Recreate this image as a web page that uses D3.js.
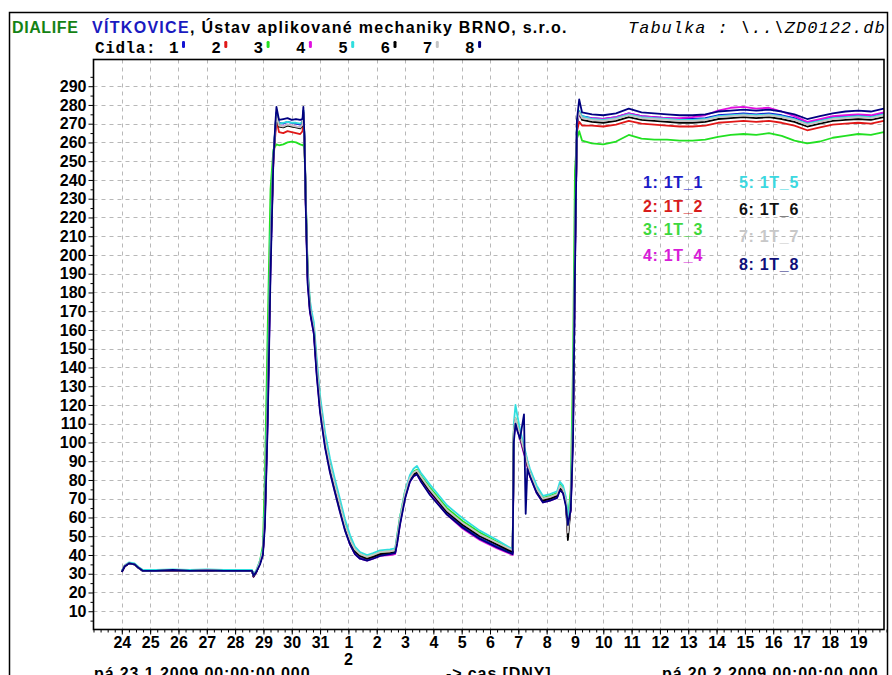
<!DOCTYPE html>
<html>
<head>
<meta charset="utf-8">
<script src="https://cdn.jsdelivr.net/npm/d3@7"></script>
<style>
    body { margin: 0; background: #fff; }
    svg { display: block; font-family: "Liberation Sans", Arial, sans-serif; }
</style>
</head>
<body>
<svg id="chart" width="892" height="675"></svg>
<script>
    'use strict';

    // time axis: days after 23.1.2009 00:00
    const startDate = new Date(2009, 0, 23);
    const endDate = new Date(2009, 1, 20);

    const days = [
        1.00, 1.10, 1.25, 1.45, 1.60, 1.75, 2.20, 2.80, 3.40, 4.00, 4.60, 5.20, 5.60, 5.65, 5.75, 5.88, 5.98,
        6.05, 6.15, 6.25, 6.35, 6.42, 6.46, 6.55, 6.70, 6.85, 7.00, 7.15, 7.30, 7.38, 7.41, 7.45,
        7.50, 7.56, 7.64, 7.70, 7.78, 7.88, 8.00, 8.18, 8.35, 8.53, 8.70, 8.88, 9.06, 9.23, 9.41, 9.66,
        9.87, 10.12, 10.47, 10.65, 10.72, 10.82, 11.00, 11.17, 11.30, 11.42, 11.55, 11.88, 12.48, 13.04, 13.64, 14.25,
        14.80, 14.84, 14.90, 14.97, 15.06, 15.20, 15.26, 15.32, 15.41, 15.65, 15.87, 16.12, 16.37, 16.47, 16.58, 16.68, 16.75, 16.85, 16.93,
        17.00, 17.07, 17.15, 17.25,
        17.60, 18.00, 18.45, 18.90, 19.35, 19.80, 20.25, 20.70, 21.15, 21.60, 22.05, 22.50, 22.95,
        23.40, 23.85, 24.30, 24.75, 25.20, 25.65, 26.10, 26.55, 27.00, 27.45, 27.90, 28.00
    ];

    const t1 = [
        31, 34, 35.5, 35, 33, 31.5, 31.5, 31.8, 31.5, 31.8, 31.5, 31.5, 31.5, 28.5, 31, 36, 41,
        58, 115, 195, 251, 268, 276, 270.5, 270, 271, 270.5, 270, 269.5, 271, 277, 262,
        224, 188, 171, 165.5, 159, 138, 118, 98.5, 85.5, 74.5, 64.5, 54, 46, 41, 38.5, 37.5,
        38.5, 40, 40.5, 41, 47, 57, 71, 79.5, 82.5, 83.5, 80, 73, 62, 55, 49, 44.5,
        41, 103, 111, 107, 102.5, 94.5, 91.5, 87.5, 82.5, 73.5, 68.5, 69.5, 71, 75.5, 73.5, 67.5, 52, 65, 105,
        195, 270, 276, 274,
        273, 272.5, 273.5, 275.5, 274, 273.5, 273, 272.5, 272.5, 273, 274.5, 275, 275.5,
        275, 275.5, 274.5, 273, 270.5, 272, 273.5, 274, 274.5, 274, 275.5, 275
    ];
    const t2 = [
        31, 34, 35.5, 35, 33, 31.5, 31.5, 31.8, 31.5, 31.8, 31.5, 31.5, 31.5, 28.5, 31, 36, 41,
        62, 125, 205, 250, 264, 272, 265.5, 265, 266, 265.5, 265, 264.5, 266, 272, 260,
        226, 191, 173, 166.5, 160.5, 141, 121, 101, 88, 77, 67, 56, 48, 42.5, 40, 38.5,
        39.5, 41, 41.5, 42, 48.5, 58.5, 72.5, 80.5, 83.5, 84.5, 81.5, 75, 64, 57, 51, 46.5,
        42, 104, 112, 108.5, 103.5, 95.5, 92.5, 88.5, 83.5, 74.5, 69.5, 70.5, 72, 76.5, 74.5, 68.5, 51, 67, 112,
        205, 266, 271, 269,
        269, 268.5, 269.5, 271.5, 270, 269.5, 269, 268.5, 268.5, 269, 270.5, 271, 271.5,
        271, 271.5, 270.5, 269, 266.5, 268, 269.5, 270, 270.5, 270, 271.5, 271
    ];
    const t3 = [
        31.5, 34, 35.5, 35, 33, 31.5, 31.5, 32, 31.5, 32, 31.5, 31.5, 31.5, 29, 31.5, 37, 45,
        80, 160, 235, 256, 258, 259, 258.5, 259, 260, 260.5, 260, 259, 258.5, 259, 256,
        228, 192, 174, 167, 161.5, 142, 122, 102, 89, 78, 68, 57, 48.5, 43, 40.5, 39,
        40, 41.5, 42, 42.5, 50, 60, 74, 81.5, 84.5, 85.5, 82.5, 76, 65, 58, 52, 47,
        42.5, 106, 113, 109.5, 104.5, 96.5, 93.5, 89.5, 84.5, 75.5, 70.5, 71.5, 73, 77.5, 75.5, 69.5, 58, 75, 140,
        245, 262, 266, 261,
        259.5, 259, 260.5, 264, 262, 261.5, 261.5, 261, 261, 261.5, 263, 264, 264.5,
        264, 265, 263.5, 261, 259.5, 260.5, 262.5, 263.5, 264.5, 264, 265.5, 264
    ];
    const t4 = [
        31, 34, 35.5, 35, 33, 31.5, 31.5, 31.8, 31.5, 31.8, 31.5, 31.5, 31.5, 28.5, 31, 35.5, 40.5,
        57, 112, 195, 250, 267, 273, 269, 268.5, 269.5, 269, 268.5, 268, 269.5, 275, 261,
        223, 187, 170, 164.5, 158, 137, 117, 97.5, 84.5, 73.5, 63.5, 53.5, 45.5, 40.5, 38, 37,
        38, 39.5, 40, 40.5, 46.5, 56.5, 70.5, 79, 82, 83, 79.5, 72.5, 61.5, 54, 48, 43.5,
        40, 102, 110.5, 106.5, 102, 94, 91, 87, 82, 73, 68, 69, 70.5, 75, 73, 67, 55, 64, 104,
        193, 270, 275, 273,
        273, 272.5, 273.5, 275.5, 274, 273.5, 273, 273, 273.5, 274.5, 277, 278.5, 279,
        278, 278.5, 276.5, 274, 271, 272.5, 274, 274.5, 275, 274.5, 276, 275.5
    ];
    const t5 = [
        31.5, 34.5, 36, 35.5, 33.5, 32, 32, 32.3, 32, 32.3, 32, 32, 32, 29.5, 32, 37, 43,
        65, 130, 210, 253, 268, 275, 270, 270.5, 271, 270.5, 270.5, 270, 271, 277, 263,
        228, 194, 176, 170, 164, 145, 125, 105, 91.5, 80, 70, 59, 50.5, 44.5, 41.5, 40,
        41, 42.5, 43, 43.5, 50, 60, 74, 82.5, 86, 87.5, 84, 77.5, 66.5, 59.5, 53, 48,
        43, 110, 120, 114, 107, 98, 94.5, 90.5, 86, 77, 71.5, 72.5, 74, 79, 77, 71, 60, 70, 118,
        205, 271, 277, 274,
        272.5, 272, 273, 275, 273.5, 273, 272.5, 272, 272, 272.5, 274, 274.5, 275,
        274.5, 275, 274, 272.5, 270, 271.5, 273, 273.5, 274, 273.5, 275, 274.5
    ];
    const t6 = [
        31, 34, 35.5, 35, 33, 31.5, 31.5, 31.8, 31.5, 31.8, 31.5, 31.5, 31.5, 28.5, 31, 36, 41,
        60, 120, 200, 252, 267, 274, 268.5, 268, 269, 268.5, 268, 267.5, 269, 276, 262,
        225, 190, 172, 166, 160, 140, 120, 100, 87, 76, 66, 55, 47, 42, 39.5, 38,
        39, 40.5, 41, 41.5, 48, 58, 72, 80, 83, 84, 81, 74, 63, 56, 50, 45.5,
        41.5, 105, 112, 108, 103, 95, 92, 88, 83, 74, 69, 70, 71.5, 76, 74, 68, 48, 66, 110,
        200, 270, 276, 272,
        271, 270.5, 271.5, 273.5, 272, 271.5, 271, 270.5, 270.5, 271, 272.5, 273, 273.5,
        273, 273.5, 272.5, 271, 268.5, 270, 271.5, 272, 272.5, 272, 273.5, 273
    ];
    const t7 = [
        31.5, 34.5, 35.5, 35, 33, 31.5, 31.5, 32, 31.5, 32, 31.5, 31.5, 31.5, 29, 31.5, 36.5, 42,
        61, 122, 202, 252, 268, 274, 269, 268.5, 269.5, 269, 268.5, 268, 269.5, 276, 262,
        226, 191, 173, 167, 161, 141, 121, 101, 88, 77, 67, 56, 48, 43, 40.5, 39,
        40, 41.5, 42, 42.5, 49, 59, 73, 81, 84, 85, 82, 75, 64, 57, 51, 46.5,
        42.5, 106, 113, 109, 104, 96, 93, 89, 84, 75, 70, 71, 72.5, 77, 75, 69, 52, 67, 112,
        202, 271, 276, 273,
        272, 271.5, 272.5, 274.5, 273, 272.5, 272, 271.5, 271.5, 272, 273.5, 274, 274.5,
        274, 274.5, 273.5, 272, 269.5, 271, 272.5, 273, 273.5, 273, 274.5, 274
    ];
    const t8 = [
        31, 34, 35.5, 35, 33, 31.5, 31.5, 32, 31.5, 31.8, 31.5, 31.5, 31.5, 29, 31, 35, 40,
        55, 110, 190, 250, 270, 279, 272, 272.5, 273, 272, 272.5, 272, 272.5, 279, 262,
        222, 185, 170, 165, 158, 136, 116, 97, 84, 73, 63, 53, 45.5, 40.5, 38, 37,
        38, 39.5, 40.5, 41, 46, 56, 70, 79, 82, 83, 79.5, 72, 61.5, 54.5, 48.5, 44,
        40.5, 100, 110, 106, 102, 115, 62, 86, 82, 73, 68, 69, 70.5, 74.5, 73, 66, 56, 64, 100,
        190, 272, 283, 276,
        275, 274.5, 275.5, 278, 276, 275.5, 275, 274.5, 274.5, 275, 276.5, 277, 277.5,
        277, 277.5, 276.5, 275, 272.5, 274, 275.5, 276.5, 277, 276.5, 278, 277.5
    ];

    const seriesValues = [t1, t2, t3, t4, t5, t6, t7, t8];
    const seriesNames = ['1T_1', '1T_2', '1T_3', '1T_4', '1T_5', '1T_6', '1T_7', '1T_8'];
    const seriesColors = ['#1414d2', '#e01818', '#22e022', '#e010e0', '#30dede', '#000000', '#c4c4c4', '#000080'];
    const legendColors = ['#1c1cc8', '#d81c1c', '#3ed83e', '#d81cd8', '#3cd8e0', '#111111', '#c8c8c8', '#10107a'];

    const yTickValues = [10, 20, 30, 40, 50, 60, 70, 80, 90, 100, 110, 120, 130, 140, 150,
        160, 170, 180, 190, 200, 210, 220, 230, 240, 250, 260, 270, 280, 290];
    const xTickLabels = ['24', '25', '26', '27', '28', '29', '30', '31', '1', '2', '3', '4', '5',
        '6', '7', '8', '9', '10', '11', '12', '13', '14', '15', '16', '17', '18', '19'];

    const plot = { left: 93.5, top: 59.5, right: 884, bottom: 629.5 };
    const svg = d3.select('#chart');

    const dayDate = (d) => new Date(startDate.getTime() + d * 864e5);

    const x = d3.scaleTime()
        .domain([startDate, endDate])
        .range([plot.left, 886.5]);
    const y = d3.scaleLinear()
        .domain([0, 304.5])
        .range([630, 59]);

    // outer frame
    svg.append('rect')
        .attr('x', 9.5).attr('y', 12.5)
        .attr('width', 878).attr('height', 700)
        .attr('fill', 'none').attr('stroke', '#000').attr('stroke-width', 1.5);

    // header
    const title = svg.append('text')
        .attr('x', 12).attr('y', 33)
        .attr('font-size', 16).attr('font-weight', 'bold');
    title.append('tspan').attr('fill', '#148214').attr('letter-spacing', 0.6).text('DIALIFE');
    const title2 = svg.append('text')
        .attr('x', 92).attr('y', 33)
        .attr('font-size', 16).attr('font-weight', 'bold').attr('letter-spacing', 1.3);
    title2.append('tspan').attr('fill', '#1a1ac0').text('VÍTKOVICE');
    title2.append('tspan').attr('fill', '#000').text(', Ústav aplikované mechaniky BRNO, s.r.o.');

    svg.append('text')
        .attr('x', 628).attr('y', 33)
        .attr('font-family', '"Liberation Mono", "Courier New", monospace')
        .attr('font-style', 'italic').attr('font-size', 17).attr('letter-spacing', 1)
        .text('Tabulka : \\..\\ZD0122.db');

    const cidla = svg.append('g')
        .attr('font-family', '"Liberation Mono", "Courier New", monospace')
        .attr('font-weight', 'bold').attr('font-size', 16);
    cidla.append('text').attr('x', 95).attr('y', 53).attr('letter-spacing', 0.6).text('Cidla:');
    seriesNames.forEach((name, i) => {
        const cx = 169 + i * 42.3;
        cidla.append('text').attr('x', cx).attr('y', 53).text(i + 1);
        cidla.append('rect')
            .attr('x', cx + 13).attr('y', 41)
            .attr('width', 3).attr('height', 7).attr('rx', 1.3)
            .attr('fill', seriesColors[i]);
    });

    // grid
    const grid = svg.append('g')
        .attr('stroke', '#b8b8b8').attr('stroke-dasharray', '4,4').attr('stroke-width', 1);
    grid.selectAll('.hgrid')
        .data(yTickValues)
        .enter().append('line')
        .attr('x1', plot.left).attr('x2', plot.right)
        .attr('y1', (d) => Math.round(y(d)) + 0.5).attr('y2', (d) => Math.round(y(d)) + 0.5);
    const dayTicks = xTickLabels.map((lbl, i) => dayDate(i + 1));
    grid.selectAll('.vgrid')
        .data(dayTicks)
        .enter().append('line')
        .attr('x1', (d) => Math.round(x(d)) + 0.5).attr('x2', (d) => Math.round(x(d)) + 0.5)
        .attr('y1', plot.top).attr('y2', plot.bottom);

    // axes
    const minorX = d3.axisBottom(x).ticks(d3.timeHour.every(6)).tickSize(3).tickFormat('');
    svg.append('g')
        .attr('transform', `translate(0, ${plot.bottom})`)
        .call(minorX)
        .call((g) => g.select('.domain').remove());

    const xAxis = d3.axisBottom(x)
        .tickValues(dayTicks)
        .tickSize(5)
        .tickFormat((d, i) => xTickLabels[i]);
    const gx = svg.append('g')
        .attr('transform', `translate(0, ${plot.bottom})`)
        .call(xAxis);
    gx.select('.domain').remove();
    gx.selectAll('text')
        .attr('y', 7).attr('dy', '0.71em')
        .attr('font-size', 16).attr('font-weight', 'bold')
        .attr('font-family', '"Liberation Sans", Arial, sans-serif')
        .attr('fill', '#000');
    // month number under 1.2.
    svg.append('text')
        .attr('x', x(dayDate(9))).attr('y', 665)
        .attr('text-anchor', 'middle')
        .attr('font-size', 16).attr('font-weight', 'bold')
        .text('2');

    const minorY = d3.axisLeft(y).tickValues(yTickValues.map((v) => v - 5).concat([295])).tickSize(3).tickFormat('');
    svg.append('g')
        .attr('transform', `translate(${plot.left}, 0)`)
        .call(minorY)
        .call((g) => g.select('.domain').remove());

    const yAxis = d3.axisLeft(y).tickValues(yTickValues).tickSize(5).tickPadding(2);
    const gy = svg.append('g')
        .attr('transform', `translate(${plot.left}, 0)`)
        .call(yAxis);
    gy.select('.domain').remove();
    gy.selectAll('text')
        .attr('font-size', 16).attr('font-weight', 'bold')
        .attr('font-family', '"Liberation Sans", Arial, sans-serif')
        .attr('fill', '#000');

    // lines
    svg.append('clipPath').attr('id', 'plotClip')
        .append('rect')
        .attr('x', plot.left).attr('y', plot.top)
        .attr('width', plot.right - plot.left).attr('height', plot.bottom - plot.top);

    const line = d3.line()
        .x((d) => x(d.date))
        .y((d) => y(d.value));

    const series = seriesValues.map((vals, i) => ({
        name: seriesNames[i],
        color: seriesColors[i],
        values: vals.map((v, j) => ({ date: dayDate(days[j]), value: v }))
    }));

    svg.append('g')
        .attr('clip-path', 'url(#plotClip)')
        .selectAll('path')
        .data(series)
        .enter().append('path')
        .attr('fill', 'none')
        .attr('stroke', (d) => d.color)
        .attr('stroke-width', 1.8)
        .attr('stroke-linejoin', 'round')
        .attr('d', (d) => line(d.values));

    // plot frame
    svg.append('rect')
        .attr('x', plot.left).attr('y', plot.top)
        .attr('width', plot.right - plot.left).attr('height', plot.bottom - plot.top)
        .attr('fill', 'none').attr('stroke', '#000').attr('stroke-width', 1.6);

    // legend inside plot
    const legendPos = [[643, 188], [643, 212], [643, 235], [643, 261], [739, 188], [739, 215], [739, 242], [739, 270]];
    svg.append('g')
        .attr('font-size', 16).attr('font-weight', 'bold').attr('letter-spacing', 0.7)
        .selectAll('text')
        .data(series)
        .enter().append('text')
        .attr('x', (d, i) => legendPos[i][0])
        .attr('y', (d, i) => legendPos[i][1])
        .attr('fill', (d, i) => legendColors[i])
        .text((d, i) => `${i + 1}: ${d.name}`);

    // bottom captions (cut by the window edge, as in the source screenshot)
    const foot = svg.append('g').attr('font-size', 16).attr('font-weight', 'bold').attr('letter-spacing', 0.9);
    foot.append('text').attr('x', 94).attr('y', 679).text('pá 23.1.2009 00:00:00.000');
    foot.append('text').attr('x', 446).attr('y', 679).text('-> cas [DNY]');
    foot.append('text').attr('x', 662).attr('y', 679).text('pá 20.2.2009 00:00:00.000');
</script>
</body>
</html>
